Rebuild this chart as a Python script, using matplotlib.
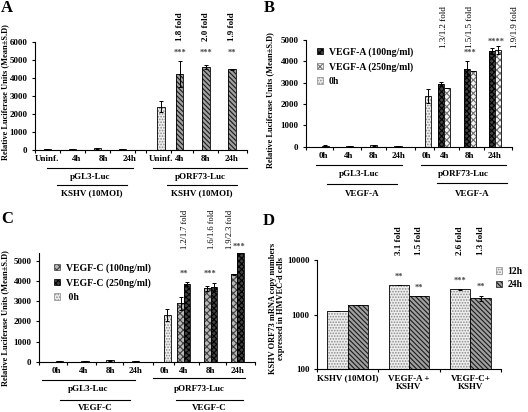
import numpy as np
import matplotlib.pyplot as plt
from matplotlib.transforms import blended_transform_factory
from matplotlib.patches import Patch
from matplotlib.ticker import NullLocator, FixedLocator

plt.rcParams['font.family'] = ['Liberation Serif', 'DejaVu Serif']
plt.rcParams['font.weight'] = 'bold'
plt.rcParams['hatch.linewidth'] = 0.8

# ---- data ----
# A
a_times = ['Uninf.', '4h', '8h', '24h']
a_gl3 = [30, 30, 80, 30]
a_gl3_err = [10, 10, 20, 10]
a_orf = [2400, 4250, 4630, 4490]
a_orf_err = [320, 720, 120, 30]
a_fold = ['1.8 fold', '2.0 fold', '1.9 fold']
a_stars = ['***', '***', '**']

# B
b_times = ['0h', '4h', '8h', '24h']
b_gl3 = [50, 40, 70, 40]
b_gl3_err = [10, 10, 15, 10]
b_0h = 2360
b_0h_err = 330
b_100 = [2925, 3655, 4485]
b_100_err = [100, 360, 120]
b_250 = [2765, 3560, 4530]
b_250_err = [0, 0, 200]
b_fold = ['1.3/1.2 fold', '1.5/1.5 fold', '1.9/1.9 fold']
b_stars = ['', '***', '****']

# C
c_times = ['0h', '4h', '8h', '24h']
c_gl3 = [40, 40, 60, 40]
c_gl3_err = [10, 10, 15, 10]
c_0h = 2340
c_0h_err = 300
c_100 = [2900, 3650, 4330]
c_100_err = [330, 120, 30]
c_250 = [3880, 3720, 5380]
c_250_err = [100, 200, 0]
c_fold = ['1.2/1.7 fold', '1.6/1.6 fold', '1.9/2.3 fold']
c_stars = ['**', '***', '***']

# D
d_groups = ['KSHV (10MOI)', 'VEGF-A +\nKSHV', 'VEGF-C+\nKSHV']
d_12h = [1150, 3520, 2930]
d_12h_err = [0, 0, 60]
d_24h = [1490, 2180, 2000]
d_24h_err = [0, 0, 200]
d_fold12 = ['', '3.1 fold', '2.6 fold']
d_fold24 = ['', '1.5 fold', '1.3 fold']
d_stars12 = ['', '**', '***']
d_stars24 = ['', '**', '**']

# ---- styles ----
LIGHT = dict(facecolor='#eeeeee', edgecolor='#8a8a8a', hatch='......')
DIAG = dict(facecolor='#a0a0a0', edgecolor='#1a1a1a', hatch='\\\\\\\\\\\\\\')
DARKX = dict(facecolor='#404040', edgecolor='black', hatch='xxxxxx')
LIGHTX = dict(facecolor='#f4f4f4', edgecolor='#707070', hatch='xxxxx')
MIDX = dict(facecolor='#b8b8b8', edgecolor='#404040', hatch='xxxxx')

W, H = 528, 412
fig = plt.figure(figsize=(W / 100, H / 100), dpi=100)
FS = 6.5


def fy(py):
    return 1 - py / H


def axes_px(left, top, right, bottom):
    ax = fig.add_axes([left / W, 1 - bottom / H, (right - left) / W, (bottom - top) / H])
    for s in ['top', 'right']:
        ax.spines[s].set_visible(False)
    for s in ['left', 'bottom']:
        ax.spines[s].set_linewidth(0.8)
    ax.tick_params(axis='y', direction='out', length=2.5, width=0.8, labelsize=FS, pad=3)
    ax.tick_params(axis='x', which='major', length=0, labelsize=FS, pad=4)
    ax.tick_params(axis='x', which='minor', direction='out', length=2.5, width=0.8)
    return ax


def hbar(ax, x, h, w, style, err=None):
    ax.bar(x, h, w, linewidth=0, **style)
    ax.bar(x, h, w, fill=False, edgecolor='black', linewidth=0.6, yerr=err,
           error_kw=dict(elinewidth=0.7, capsize=1.5, capthick=0.7, ecolor='black'))


def group_lines(ax, specs):
    tr = blended_transform_factory(ax.transData, fig.transFigure)
    for x0, x1, ly, label, ty in specs:
        ax.plot([x0, x1], [fy(ly), fy(ly)], color='black', lw=0.8,
                transform=tr, clip_on=False)
        ax.text((x0 + x1) / 2, fy(ty), label, transform=tr, ha='center',
                va='center', fontsize=FS)


def set_minor(ax, ticks):
    ax.xaxis.set_minor_locator(FixedLocator(ticks))


def legend_handle(style):
    return Patch(linewidth=0.5, **style)


# ---------------- A ----------------
ax = axes_px(35, 42.3, 247, 149.7)
ax.set_ylim(0, 6000)
ax.set_xlim(0, 8.5)
ax.set_yticks(np.arange(0, 6001, 1000))
xa_gl3 = np.array([0.5, 1.5, 2.5, 3.5])
xa_orf = np.array([5.05, 5.8, 6.85, 7.9])
hbar(ax, xa_gl3, a_gl3, 0.3, LIGHT, a_gl3_err)
hbar(ax, xa_orf[:1], a_orf[:1], 0.3, LIGHT, a_orf_err[:1])
hbar(ax, xa_orf[1:], a_orf[1:], 0.3, DIAG, a_orf_err[1:])
ax.set_xticks(np.concatenate([xa_gl3 + [0, 0.15, 0.25, 0.3], xa_orf]))
ax.set_xticklabels(a_times + a_times)
set_minor(ax, [0, 1.0, 2.0, 3.0, 4.0, 4.45, 5.45, 6.35, 7.35, 8.5])
for x, f, s in zip(xa_orf[1:], a_fold, a_stars):
    ax.text(x, 6850, f, rotation=90, ha='center', va='center', fontsize=FS)
    ax.text(x, 5400, s, ha='center', va='center', fontsize=6, color='#444444')
group_lines(ax, [(0.48, 3.94, 168, 'pGL3-Luc', 177),
                 (4.74, 8.5, 168, 'pORF73-Luc', 177),
                 (0.88, 3.7, 185, 'KSHV (10MOI)', 193.5),
                 (5.3, 8.1, 185, 'KSHV (10MOI)', 193.5)])
fig.text(5 / W, fy(92), 'Relative Luciferase Units (Mean\u00b1S.D)', rotation=90,
         ha='center', va='center', fontsize=6)
fig.text(7 / W, fy(8), 'A', ha='center', va='center', fontsize=12)


# ---------------- B / C ----------------
def vegf_panel(box, ymax, ytop_ticks, times, gl3, gl3_err, v0, v0_err, v100, v100_err,
               v250, v250_err, s100, s250, folds, fold_x, fold_y, fold_fs, stars, star_x, star_y,
               lines, ylabel_pos, letter_pos, letter, leg_labels, leg_anchor):
    ax = axes_px(*box)
    ax.set_ylim(0, ymax)
    ax.set_xlim(0, 8.5)
    ax.set_yticks(np.arange(0, ytop_ticks + 1, 1000))
    x_gl3 = np.array([0.8, 1.8, 2.8, 3.8])
    x0 = 5.05
    xc = np.array([5.7, 6.75, 7.8])
    bw = 0.25
    hbar(ax, x_gl3, gl3, 0.3, LIGHT, gl3_err)
    hbar(ax, [x0], [v0], bw, LIGHT, [v0_err])
    hbar(ax, xc - bw / 2, v100, bw, s100, v100_err)
    hbar(ax, xc + bw / 2, v250, bw, s250, v250_err)
    ax.set_xticks(np.concatenate([x_gl3 - [0.1, 0.05, 0.0, 0.0], [x0 - 0.1], xc]))
    ax.set_xticklabels(times + times)
    set_minor(ax, [0, 1.1, 2.25, 3.3, 4.5, 5.3, 6.3, 7.35, 8.5])
    for x, f in zip(fold_x, folds):
        ax.text(x, fold_y, f, rotation=90, ha='center', va='center', fontsize=fold_fs,
                fontweight='normal')
    for x, s, y in zip(star_x, stars, star_y):
        ax.text(x, y, s, ha='center', va='center', fontsize=6, color='#444444')
    group_lines(ax, lines)
    fig.text(ylabel_pos[0] / W, fy(ylabel_pos[1]), 'Relative Luciferase Units (Mean\u00b1S.D)',
             rotation=90, ha='center', va='center', fontsize=6)
    fig.text(letter_pos[0] / W, fy(letter_pos[1]), letter, ha='center', va='center', fontsize=12)
    handles = [legend_handle(s100), legend_handle(s250), legend_handle(LIGHT)]
    ax.legend(handles, leg_labels, loc='upper left', bbox_to_anchor=(leg_anchor[0] / W, fy(leg_anchor[1])),
              bbox_transform=fig.transFigure, frameon=False, fontsize=FS + 0.5,
              handlelength=0.6, handleheight=0.6, handletextpad=0.6, labelspacing=0.55,
              borderaxespad=0, borderpad=0)
    return ax


vegf_panel((306, 40, 512, 146.7), 5000, 5000, b_times, b_gl3, b_gl3_err, b_0h, b_0h_err,
           b_100, b_100_err, b_250, b_250_err, DARKX, LIGHTX,
           b_fold, [5.68, 6.78, 8.62], 5600, FS,
           b_stars, [5.7, 6.77, 7.84], [0, 4400, 4920],
           [(0.41, 3.96, 165, 'pGL3-Luc', 173.5),
            (4.74, 8.25, 165, 'pORF73-Luc', 173.5),
            (0.87, 3.75, 184, 'VEGF-A', 193.5),
            (5.4, 8.29, 183, 'VEGF-A', 193.5)],
           (270, 100), (269, 8), 'B',
           ['VEGF-A (100ng/ml)', 'VEGF-A (250ng/ml)', '0h'], (317, 47))

vegf_panel((39, 252.9, 255, 361.7), 5400, 5000, c_times, c_gl3, c_gl3_err, c_0h, c_0h_err,
           c_100, c_100_err, c_250, c_250_err, MIDX, DARKX,
           c_fold, [5.75, 6.81, 7.5], 6550, 6,
           c_stars, [5.7, 6.75, 7.87], [4355, 4355, 5680],
           [(0.12, 3.78, 380, 'pGL3-Luc', 389),
            (4.49, 8.1, 378, 'pORF73-Luc', 389),
            (0.83, 3.58, 400, 'VEGF-C', 408),
            (5.4, 8.03, 400, 'VEGF-C', 408)],
           (5, 318), (7, 219), 'C',
           ['VEGF-C (100ng/ml)', 'VEGF-C (250ng/ml)', ' 0h'], (54, 263))

# ---------------- D ----------------
ax = axes_px(317, 260, 501, 369)
ax.set_yscale('log')
ax.set_ylim(100, 10000)
ax.set_xlim(0, 3)
ax.yaxis.set_minor_locator(NullLocator())
ax.set_yticks([100, 1000, 10000])
ax.set_yticklabels(['100', '1000', '10000'])
xd = np.arange(3) + 0.5
bw = 1 / 3
hbar(ax, xd - bw / 2, d_12h, bw, LIGHT, d_12h_err)
hbar(ax, xd + bw / 2, d_24h, bw, DIAG, d_24h_err)
ax.set_xticks(xd)
ax.set_xticklabels(d_groups, va='top', linespacing=1.05)
set_minor(ax, [0, 1, 2, 3])
for i in range(1, 3):
    ax.text(xd[i] - bw / 2, 22400, d_fold12[i], rotation=90, ha='center', va='center', fontsize=FS)
    ax.text(xd[i] + bw / 2, 22400, d_fold24[i], rotation=90, ha='center', va='center', fontsize=FS)
ax.text(xd[1] - bw / 2, 4900, d_stars12[1], ha='center', va='center', fontsize=6, color='#444444')
ax.text(xd[1] + bw / 2, 3060, d_stars24[1], ha='center', va='center', fontsize=6, color='#444444')
ax.text(xd[2] - bw / 2, 4120, d_stars12[2], ha='center', va='center', fontsize=6, color='#444444')
ax.text(xd[2] + bw / 2, 3200, d_stars24[2], ha='center', va='center', fontsize=6, color='#444444')
handles = [legend_handle(LIGHT), legend_handle(DIAG)]
ax.legend(handles, ['12h', '24h'], loc='upper left', bbox_to_anchor=(496 / W, fy(267)),
          bbox_transform=fig.transFigure, frameon=False, fontsize=FS + 0.5,
          handlelength=0.6, handleheight=0.6, handletextpad=0.6, labelspacing=0.45,
          borderaxespad=0, borderpad=0)
fig.text(277 / W, fy(308), 'KSHV ORF73 mRNA copy numbers\nexpressed in HMVEC-d cells',
         rotation=90, ha='center', va='center', fontsize=6, linespacing=1.15)
fig.text(269 / W, fy(221), 'D', ha='center', va='center', fontsize=12)

fig.savefig('out.png', dpi=100)
